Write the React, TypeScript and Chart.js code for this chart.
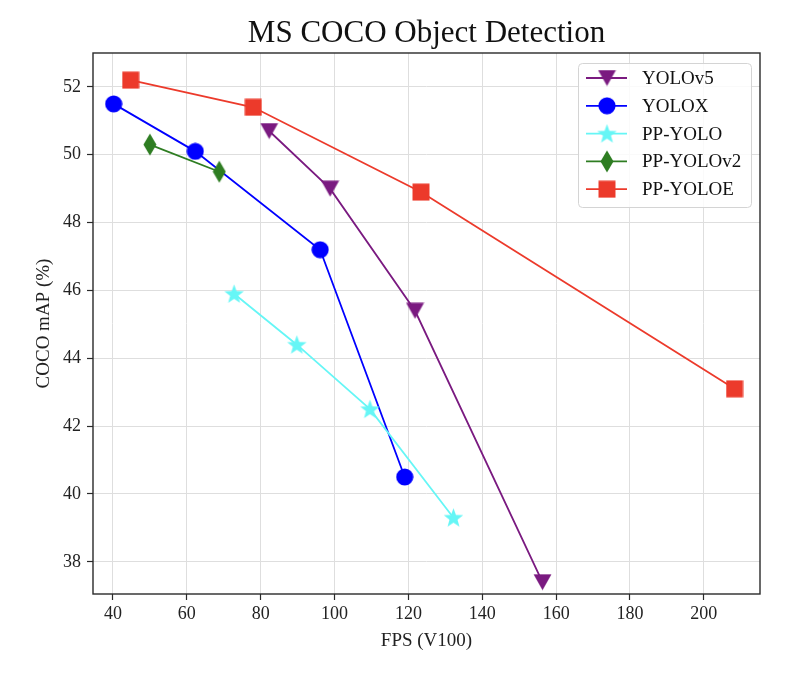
import React, { useEffect, useRef } from 'react';
import { Chart, registerables } from 'chart.js';
Chart.register(...registerables);

const chartTitle = 'MS COCO Object Detection';
const xTitle = 'FPS (V100)';
const yTitle = 'COCO mAP (%)';
const seriesNames = ['YOLOv5', 'YOLOX', 'PP-YOLO', 'PP-YOLOv2', 'PP-YOLOE'];
const seriesColors = ['#7a1a80', '#0000ff', '#66f6f6', '#2e7d22', '#ec3a2b'];

const yolov5Fps = [82.3, 98.8, 121.8, 156.3];
const yolov5Map = [50.7, 49.0, 45.4, 37.4];
const yoloxFps = [40.2, 62.3, 96.1, 119.0];
const yoloxMap = [51.5, 50.1, 47.2, 40.5];
const ppyoloFps = [72.8, 89.8, 109.6, 132.2];
const ppyoloMap = [45.9, 44.4, 42.5, 39.3];
const ppyolov2Fps = [50.0, 68.8];
const ppyolov2Map = [50.3, 49.5];
const ppyoloeFps = [44.8, 78.0, 123.4, 208.3];
const ppyoloeMap = [52.2, 51.4, 48.9, 43.1];

const xTicks = [40, 60, 80, 100, 120, 140, 160, 180, 200];
const yTicks = [38, 40, 42, 44, 46, 48, 50, 52];

const FONT = "'Liberation Serif', 'Times New Roman', serif";

function makeMarker(shape: string, color: string): HTMLCanvasElement {
  const c = document.createElement('canvas');
  let w = 18, h = 18;
  if (shape === 'tri') { w = 19; h = 17; }
  if (shape === 'diamond') { w = 14; h = 23; }
  if (shape === 'star') { w = 21; h = 20; }
  c.width = w; c.height = h;
  const ctx = c.getContext('2d')!;
  ctx.fillStyle = color;
  ctx.beginPath();
  if (shape === 'tri') {
    ctx.moveTo(0.5, 0.5); ctx.lineTo(w - 0.5, 0.5); ctx.lineTo(w / 2, h - 0.5); ctx.closePath();
  } else if (shape === 'circle') {
    ctx.arc(w / 2, h / 2, 8.6, 0, Math.PI * 2);
  } else if (shape === 'square') {
    ctx.rect(0.5, 0.5, w - 1, h - 1);
  } else if (shape === 'diamond') {
    ctx.moveTo(w / 2, 0.5); ctx.lineTo(w - 0.5, h / 2); ctx.lineTo(w / 2, h - 0.5); ctx.lineTo(0.5, h / 2); ctx.closePath();
  } else if (shape === 'star') {
    const cx = w / 2, cy = 10.7, R = 10.2, r = 4.2;
    for (let i = 0; i < 10; i++) {
      const rad = i % 2 === 0 ? R : r;
      const a = -Math.PI / 2 + (i * Math.PI) / 5;
      const px = cx + rad * Math.cos(a), py = cy + rad * Math.sin(a);
      if (i === 0) ctx.moveTo(px, py); else ctx.lineTo(px, py);
    }
    ctx.closePath();
  }
  ctx.fill();
  return c;
}

function pts(xs: number[], ys: number[]) {
  return xs.map((x, i) => ({ x, y: ys[i] }));
}

export default function App() {
  const ref = useRef<HTMLCanvasElement>(null);
  useEffect(() => {
    document.body.style.margin = '0';
    const shapes = ['tri', 'circle', 'star', 'diamond', 'square'];
    const markers = shapes.map((s, i) => makeMarker(s, seriesColors[i]));
    const allData = [
      pts(yolov5Fps, yolov5Map),
      pts(yoloxFps, yoloxMap),
      pts(ppyoloFps, ppyoloMap),
      pts(ppyolov2Fps, ppyolov2Map),
      pts(ppyoloeFps, ppyoloeMap),
    ];
    const datasets = seriesNames.map((name, i) => ({
      label: name,
      data: allData[i],
      showLine: true,
      borderColor: seriesColors[i],
      backgroundColor: seriesColors[i],
      borderWidth: 1.8,
      pointStyle: markers[i],
      pointRadius: 9,
      order: 5 - i,
      clip: false as any,
    }));

    const framePlugin = {
      id: 'frame',
      afterDraw(chart: any) {
        const { ctx, chartArea: a } = chart;
        ctx.save();
        ctx.strokeStyle = '#2a2a2a';
        ctx.lineWidth = 1.4;
        ctx.strokeRect(a.left, a.top, a.right - a.left, a.bottom - a.top);
        // title
        ctx.fillStyle = '#111';
        ctx.font = `31px ${FONT}`;
        ctx.textAlign = 'center';
        ctx.textBaseline = 'alphabetic';
        ctx.fillText(chartTitle, (a.left + a.right) / 2, 42);
        // legend
        const lx = 578, ly = 63, lw = 173, lh = 144;
        ctx.beginPath();
        ctx.roundRect(lx + 0.5, ly + 0.5, lw, lh, 4);
        ctx.fillStyle = 'rgba(255,255,255,0.85)';
        ctx.fill();
        ctx.strokeStyle = '#d4d4d4';
        ctx.lineWidth = 1;
        ctx.stroke();
        ctx.font = `19px ${FONT}`;
        ctx.textAlign = 'left';
        ctx.textBaseline = 'middle';
        seriesNames.forEach((name, i) => {
          const y = 78 + i * 27.8;
          ctx.strokeStyle = seriesColors[i];
          ctx.lineWidth = 1.8;
          ctx.beginPath();
          ctx.moveTo(586, y);
          ctx.lineTo(627, y);
          ctx.stroke();
          const m = markers[i];
          ctx.drawImage(m, 607 - m.width / 2, y - m.height / 2);
          ctx.fillStyle = '#111';
          ctx.fillText(name, 642, y + 1);
        });
        ctx.restore();
      },
    };

    const chart = new Chart(ref.current!, {
      type: 'scatter',
      data: { datasets: datasets as any },
      plugins: [framePlugin],
      options: {
        animation: false,
        responsive: false,
        layout: { padding: { top: 53, right: 48, left: 0, bottom: 0 } },
        plugins: { legend: { display: false }, title: { display: false }, tooltip: { enabled: false } },
        scales: {
          x: {
            type: 'linear',
            min: 34.6,
            max: 215.2,
            afterFit: (s: any) => { s.height = 79; },
            afterBuildTicks: (s: any) => { s.ticks = xTicks.map((v) => ({ value: v })); },
            grid: { color: '#dedede', lineWidth: 1, tickColor: '#2a2a2a', tickLength: 6, tickWidth: 1.2 } as any,
            border: { display: false },
            ticks: { font: { family: FONT, size: 18 }, color: '#222', padding: 3, maxRotation: 0, autoSkip: false },
            title: { display: true, text: xTitle, font: { family: FONT, size: 19 }, color: '#222', padding: { top: 0, bottom: 21 } },
          },
          y: {
            type: 'linear',
            min: 37.05,
            max: 53.0,
            afterFit: (s: any) => { s.width = 93; },
            afterBuildTicks: (s: any) => { s.ticks = yTicks.map((v) => ({ value: v })); },
            grid: { color: '#dedede', lineWidth: 1, tickColor: '#2a2a2a', tickLength: 6, tickWidth: 1.2 } as any,
            border: { display: false },
            ticks: { font: { family: FONT, size: 18 }, color: '#222', padding: 6, autoSkip: false },
            title: { display: true, text: yTitle, font: { family: FONT, size: 19 }, color: '#222', padding: { top: 33, bottom: 0 } },
          },
        },
      },
    });
    return () => chart.destroy();
  }, []);
  return <canvas ref={ref} width={808} height={673} style={{ display: 'block' }} />;
}
